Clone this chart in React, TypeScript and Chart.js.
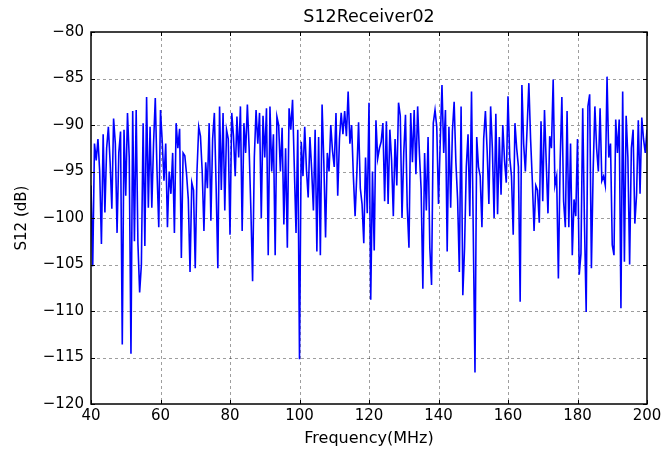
import React, { useEffect, useRef } from 'react';
import { Chart, registerables } from 'chart.js';

Chart.register(...registerables);

const FONT = '"DejaVu Sans", "Liberation Sans", sans-serif';

// Sweep definition (uniform frequency grid, MHz)
const FREQ_START_MHZ = 40;
const FREQ_STEP_MHZ = 0.5;

// S12 values (dB)
const s12_40to66 = [
  -96.5, -105.2, -92.0, -93.8, -91.5, -95.0, -102.8, -91.0, -99.4, -92.5,
  -90.2, -94.0, -99.0, -89.3, -92.0, -101.6, -93.0, -90.7, -113.6, -90.5,
  -97.6, -88.7, -93.5, -114.6, -88.5, -102.5, -88.4, -102.7, -108.0, -105.0,
  -89.8, -103.0, -87.0, -98.9, -90.2, -98.9, -92.0, -87.1, -95.0, -101.0,
  -88.4, -91.8, -96.0, -92.0, -101.0, -95.0, -97.4, -93.0, -101.6, -89.8,
  -92.5, -90.4, -104.3, -93.0,
];
const s12_67to93 = [
  -93.3, -95.3, -98.0, -105.8, -96.2, -97.0, -105.4, -95.0, -90.2, -91.2,
  -95.0, -101.4, -94.0, -96.8, -89.8, -100.3, -91.5, -88.7, -96.5, -105.4,
  -88.0, -97.0, -88.7, -99.2, -90.5, -91.5, -101.8, -88.7, -91.2, -95.5,
  -89.1, -93.5, -88.0, -101.4, -89.8, -93.0, -87.8, -92.5, -99.0, -106.8,
  -93.5, -88.4, -92.0, -88.7, -100.0, -89.0, -93.5, -88.2, -104.0, -88.0,
  -95.0, -91.0, -104.0,
];
const s12_93to120 = [
  -89.1, -90.0, -95.0, -90.3, -100.7, -92.5, -103.2, -88.2, -90.5, -87.3,
  -94.5, -101.6, -90.5, -115.2, -91.8, -95.5, -90.2, -94.8, -97.8, -91.3,
  -94.8, -99.2, -90.5, -103.6, -91.3, -104.0, -87.8, -94.0, -102.1, -93.0,
  -95.0, -90.0, -92.8, -94.5, -88.7, -97.6, -91.5, -88.7, -91.0, -88.5,
  -91.2, -86.4, -92.0, -90.0, -95.5, -99.8, -95.2, -89.7, -96.8, -98.5,
  -102.7, -93.5, -99.5, -87.6,
];
const s12_120to147 = [
  -108.8, -95.0, -103.5, -89.5, -93.6, -92.5, -91.8, -89.8, -98.2, -89.6,
  -98.5, -90.5, -93.8, -99.8, -91.5, -96.5, -87.6, -89.0, -100.0, -93.0,
  -88.9, -98.8, -103.2, -88.7, -94.0, -88.4, -95.3, -88.0, -93.0, -96.9,
  -107.6, -93.0, -99.2, -91.3, -103.2, -107.2, -89.8, -88.4, -90.2, -98.5,
  -91.8, -85.7, -93.0, -88.4, -103.6, -90.2, -98.9, -90.7, -87.5, -94.0,
  -98.0, -105.8, -88.0, -108.3,
];
const s12_147to173 = [
  -103.2, -94.5, -91.0, -99.8, -86.4, -101.4, -116.6, -91.3, -94.5, -95.5,
  -101.0, -91.5, -88.5, -92.8, -98.5, -88.0, -92.5, -100.0, -88.8, -99.6,
  -91.3, -97.5, -90.0, -93.8, -96.2, -86.9, -93.5, -95.5, -101.8, -89.8,
  -92.5, -94.5, -109.0, -85.7, -92.0, -95.0, -90.3, -85.5, -91.5, -96.0,
  -101.4, -96.5, -97.0, -100.5, -89.6, -98.2, -88.4, -94.0, -99.5, -91.2,
  -92.5, -85.1, -96.5,
];
const s12_174to200 = [
  -95.5, -106.5, -94.0, -87.0, -98.2, -101.0, -88.5, -101.0, -92.0, -104.0,
  -98.0, -99.8, -91.5, -106.1, -103.8, -88.2, -100.5, -110.1, -88.0, -86.7,
  -105.4, -95.0, -88.0, -92.5, -95.0, -88.2, -96.0, -95.5, -96.5, -84.8,
  -93.5, -92.0, -102.9, -104.0, -89.4, -93.0, -89.4, -109.7, -86.4, -104.7,
  -89.0, -93.5, -105.0, -92.5, -90.5, -100.6, -97.5, -89.5, -97.4, -89.2,
  -91.5, -93.0, -90.5,
];

const s12Db = [
  ...s12_40to66,
  ...s12_67to93,
  ...s12_93to120,
  ...s12_120to147,
  ...s12_147to173,
  ...s12_174to200,
];
const frequenciesMHz = s12Db.map((_, i) => FREQ_START_MHZ + i * FREQ_STEP_MHZ);

const X_TICKS = [40, 60, 80, 100, 120, 140, 160, 180, 200];
const Y_TICKS = [-120, -115, -110, -105, -100, -95, -90, -85, -80];
const TITLE = 'S12Receiver02';
const X_LABEL = 'Frequency(MHz)';
const Y_LABEL = 'S12 (dB)';

const mplPlugin = {
  id: 'mplFrame',
  beforeDatasetsDraw(chart: any) {
    const { ctx, chartArea: a, scales } = chart;
    ctx.save();
    ctx.strokeStyle = 'rgba(0,0,0,0.38)';
    ctx.lineWidth = 1;
    ctx.setLineDash([3, 3]);
    for (const v of X_TICKS) {
      if (v === X_TICKS[0] || v === X_TICKS[X_TICKS.length - 1]) continue;
      const px = Math.round(scales.x.getPixelForValue(v)) + 0.5;
      ctx.beginPath();
      ctx.moveTo(px, a.top);
      ctx.lineTo(px, a.bottom);
      ctx.stroke();
    }
    for (const v of Y_TICKS) {
      if (v === Y_TICKS[0] || v === Y_TICKS[Y_TICKS.length - 1]) continue;
      const py = Math.round(scales.y.getPixelForValue(v)) + 0.5;
      ctx.beginPath();
      ctx.moveTo(a.left, py);
      ctx.lineTo(a.right, py);
      ctx.stroke();
    }
    ctx.restore();
  },
  afterDatasetsDraw(chart: any) {
    const { ctx, chartArea: a, scales } = chart;
    ctx.save();
    ctx.setLineDash([]);
    ctx.strokeStyle = '#000';
    ctx.lineWidth = 1;
    const tl = 4;
    for (const v of X_TICKS) {
      const px = Math.round(scales.x.getPixelForValue(v)) + 0.5;
      ctx.beginPath();
      ctx.moveTo(px, a.bottom);
      ctx.lineTo(px, a.bottom - tl);
      ctx.moveTo(px, a.top);
      ctx.lineTo(px, a.top + tl);
      ctx.stroke();
    }
    for (const v of Y_TICKS) {
      const py = Math.round(scales.y.getPixelForValue(v)) + 0.5;
      ctx.beginPath();
      ctx.moveTo(a.left, py);
      ctx.lineTo(a.left + tl, py);
      ctx.moveTo(a.right, py);
      ctx.lineTo(a.right - tl, py);
      ctx.stroke();
    }
    ctx.lineWidth = 1.5;
    ctx.strokeRect(a.left, a.top, a.right - a.left, a.bottom - a.top);
    // title
    ctx.fillStyle = '#000';
    ctx.font = `17.5px ${FONT}`;
    ctx.textAlign = 'center';
    ctx.textBaseline = 'alphabetic';
    ctx.fillText(TITLE, (a.left + a.right) / 2, 22);
    ctx.restore();
  },
};

export default function App() {
  const canvasRef = useRef<HTMLCanvasElement | null>(null);

  useEffect(() => {
    const canvas = canvasRef.current;
    if (!canvas) return;
    const chart = new Chart(canvas, {
      type: 'line',
      data: {
        datasets: [
          {
            label: Y_LABEL,
            data: frequenciesMHz.map((f, i) => ({ x: f, y: s12Db[i] })),
            borderColor: '#0000ff',
            backgroundColor: '#0000ff',
            borderWidth: 1.6,
            pointRadius: 0,
            tension: 0,
            fill: false,
          },
        ],
      },
      options: {
        responsive: false,
        animation: false,
        events: [],
        layout: { padding: { left: 0, right: 14, top: 32, bottom: 0 } },
        plugins: {
          legend: { display: false },
          title: { display: false },
          tooltip: { enabled: false },
        },
        scales: {
          x: {
            type: 'linear',
            min: 40,
            max: 200,
            afterBuildTicks: (scale: any) => {
              scale.ticks = X_TICKS.map((v) => ({ value: v }));
            },
            afterFit: (scale: any) => {
              scale.height = 48;
              scale.paddingLeft = 0;
              scale.paddingRight = 0;
            },
            grid: { display: false, drawTicks: false },
            border: { display: false },
            ticks: {
              color: '#000',
              font: { family: FONT, size: 15 },
              padding: 3,
              maxRotation: 0,
              autoSkip: false,
            },
            title: {
              display: true,
              text: X_LABEL,
              color: '#000',
              font: { family: FONT, size: 16 },
              padding: { top: 0, bottom: 4 },
            },
          },
          y: {
            type: 'linear',
            min: -120,
            max: -80,
            afterBuildTicks: (scale: any) => {
              scale.ticks = Y_TICKS.map((v) => ({ value: v }));
            },
            afterFit: (scale: any) => {
              scale.width = 91;
              scale.paddingTop = 0;
              scale.paddingBottom = 0;
            },
            grid: { display: false, drawTicks: false },
            border: { display: false },
            ticks: {
              color: '#000',
              font: { family: FONT, size: 15 },
              padding: 7,
              autoSkip: false,
              callback: (v: any) => (Number(v) < 0 ? '\u2212' + Math.abs(Number(v)) : String(v)),
            },
            title: {
              display: true,
              text: Y_LABEL,
              color: '#000',
              font: { family: FONT, size: 15 },
              padding: { top: 13, bottom: 0 },
            },
          },
        },
      },
      plugins: [mplPlugin],
    });
    return () => chart.destroy();
  }, []);

  return (
    <div style={{ position: 'absolute', left: 0, top: 0, width: 661, height: 452, background: '#fff' }}>
      <canvas ref={canvasRef} width={661} height={452} style={{ width: 661, height: 452, display: 'block' }} />
    </div>
  );
}
